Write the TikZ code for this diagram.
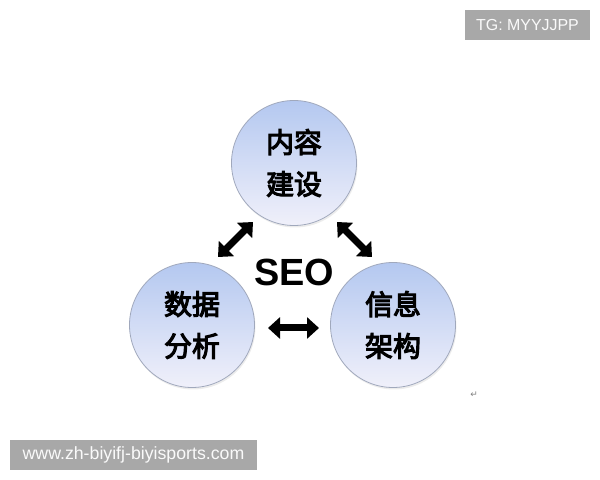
\documentclass[tikz,border=0pt]{standalone}
\usepackage{fontspec}
\setmainfont{Liberation Sans}
\newfontfamily\cjk[FakeBold=4]{Noto Sans CJK SC}
\newfontfamily\symfont{DejaVu Sans}
\usetikzlibrary{arrows.meta,shadows}
\definecolor{balltop}{RGB}{180,200,240}
\definecolor{ballmid}{RGB}{206,218,244}
\definecolor{ballbot}{RGB}{240,240,250}
\definecolor{ballrim}{RGB}{160,168,188}
\definecolor{taggray}{RGB}{168,168,168}
\begin{document}
\begin{tikzpicture}[x=1bp,y=1bp,
  ball/.style={circle,minimum size=125bp,inner sep=0pt,draw=ballrim,line width=0.8bp,
    top color=balltop,middle color=ballmid,bottom color=ballbot,
    drop shadow={shadow xshift=1bp,shadow yshift=-2bp,opacity=0.15},
    font=\cjk\fontsize{28}{42}\selectfont,align=center},
  dblarrow/.style={line width=7bp,{Triangle[width=21bp,length=12bp]}-{Triangle[width=21bp,length=12bp]}},
  tag/.style={fill=taggray,text=white!96!gray,minimum height=30bp,inner sep=0pt}]
\useasboundingbox (0bp,0bp) rectangle (600bp,480bp);
%%
\node (node_0) at (294bp,317bp) [ball] {内容\\建设};
  \node (node_1) at (192bp,155bp) [ball] {数据\\分析};
  \node (node_2) at (393bp,155bp) [ball] {信息\\架构};
  \node (seo) at (294bp,208bp) {\fontsize{38}{40}\selectfont\bfseries SEO};
  \coordinate (a_0) at (218bp,223bp);
  \coordinate (a_1) at (253bp,258bp);
  \coordinate (b_0) at (337bp,258bp);
  \coordinate (b_1) at (372bp,223bp);
  \coordinate (c_0) at (268bp,152bp);
  \coordinate (c_1) at (319bp,152bp);
  \draw [dblarrow] (a_0) -- (a_1);
  \draw [dblarrow] (b_0) -- (b_1);
  \draw [dblarrow] (c_0) -- (c_1);
  \node (mark) at (474bp,85bp) [text=gray] {\symfont\fontsize{9}{10}\selectfont ↵};
%
\node (tag_0) at (527.5bp,455bp) [tag,minimum width=125bp] {\fontsize{16}{18}\selectfont TG: MYYJJPP};
  \node (tag_1) at (133.5bp,25bp) [tag,minimum width=247bp] {\fontsize{17.8}{19}\selectfont www.zh-biyifj-biyisports.com};
%
\end{tikzpicture}
\end{document}
